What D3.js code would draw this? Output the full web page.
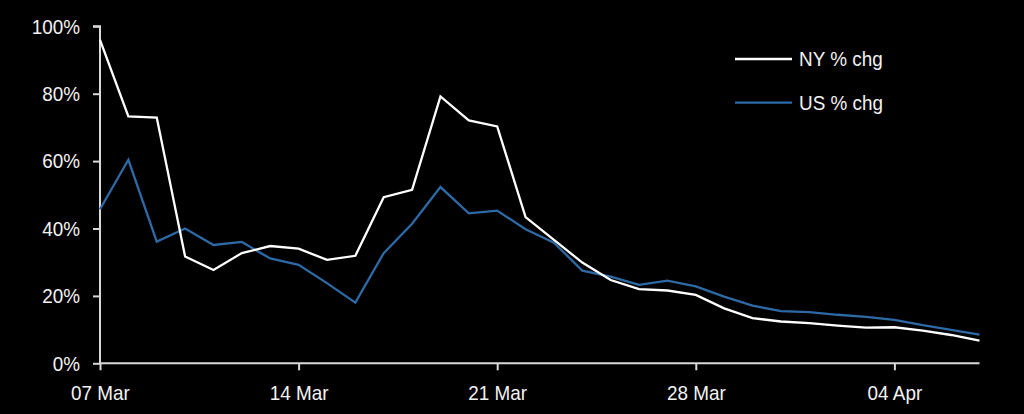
<!DOCTYPE html>
<html>
<head>
<meta charset="utf-8">
<script src="https://cdn.jsdelivr.net/npm/d3@7"></script>
<style>
  html, body { margin: 0; padding: 0; background: #000; }
  svg { display: block; }
  text { font-family: "Liberation Sans", Arial, sans-serif; fill: #f2f2f2; }
</style>
</head>
<body>
<svg id="chart" width="1024" height="414"></svg>
<script>
const dates = ["2020-03-07","2020-03-08","2020-03-09","2020-03-10","2020-03-11","2020-03-12","2020-03-13","2020-03-14",
  "2020-03-15","2020-03-16","2020-03-17","2020-03-18","2020-03-19","2020-03-20","2020-03-21","2020-03-22",
  "2020-03-23","2020-03-24","2020-03-25","2020-03-26","2020-03-27","2020-03-28","2020-03-29","2020-03-30",
  "2020-03-31","2020-04-01","2020-04-02","2020-04-03","2020-04-04","2020-04-05","2020-04-06","2020-04-07"];
const nyChg = [96.0, 73.3, 72.9, 31.7, 27.7, 32.7, 34.8, 34.0, 30.7, 31.9, 49.3, 51.5, 79.2, 72.1, 70.3, 43.4,
  36.6, 29.9, 24.7, 22.0, 21.6, 20.3, 16.3, 13.4, 12.4, 11.9, 11.2, 10.6, 10.7, 9.7, 8.4, 6.7];
const usChg = [45.7, 60.4, 36.1, 40.0, 35.1, 36.0, 31.1, 29.2, 23.8, 18.0, 32.7, 41.4, 52.3, 44.5, 45.3, 39.8,
  35.8, 27.5, 25.7, 23.3, 24.5, 22.8, 19.8, 17.1, 15.5, 15.2, 14.4, 13.8, 12.9, 11.3, 9.9, 8.5];
const xTickDates = ["2020-03-07","2020-03-14","2020-03-21","2020-03-28","2020-04-04"];
const yTicks = [0, 20, 40, 60, 80, 100];
const seriesNames = ["NY % chg", "US % chg"];
const seriesColors = ["#ffffff", "#2d6aa5"];

const parse = d3.utcParse("%Y-%m-%d");
const fmt = d3.utcFormat("%d %b");
const svg = d3.select("#chart");
const FS = 21, SX = 0.9;

const x = d3.scaleUtc()
  .domain([parse(dates[0]), parse(dates[dates.length - 1])])
  .range([100, 979.5]);
const y = d3.scaleLinear().domain([0, 100]).range([363.3, 26.3]);

const axisColor = "#d9d9d9";

// Y axis
const yAxis = svg.append("g").attr("transform", "translate(100,0)")
  .call(d3.axisLeft(y).tickValues(yTicks).tickSize(7).tickPadding(12).tickFormat(d => d + "%"));
yAxis.select(".domain").attr("stroke", axisColor).attr("stroke-width", 2).attr("d", `M-7,${y(100)}H0V${y(0)}`);
yAxis.selectAll(".tick line").attr("stroke", axisColor).attr("stroke-width", 2);
yAxis.selectAll(".tick text").attr("font-size", FS).attr("fill", "#f2f2f2")
  .attr("font-family", "'Liberation Sans', Arial, sans-serif")
  .attr("x", 0).attr("transform", `translate(-20,0) scale(${SX},1)`);

// X axis
const xAxis = svg.append("g").attr("transform", `translate(0,${y(0)})`)
  .call(d3.axisBottom(x).tickValues(xTickDates.map(parse)).tickSize(7).tickPadding(15).tickFormat(fmt));
xAxis.select(".domain").attr("stroke", axisColor).attr("stroke-width", 2).attr("d", `M${x.range()[0]},0H${x.range()[1]}`);
xAxis.selectAll(".tick line").attr("stroke", axisColor).attr("stroke-width", 2);
xAxis.selectAll(".tick text").attr("font-size", FS).attr("fill", "#f2f2f2")
  .attr("font-family", "'Liberation Sans', Arial, sans-serif")
  .attr("transform", `scale(${SX},1)`);

// Lines
const series = [nyChg, usChg];
const line = d3.line().x((d, i) => x(parse(dates[i]))).y(d => y(d));
[1, 0].forEach(k => {
  svg.append("path")
    .datum(series[k])
    .attr("fill", "none")
    .attr("stroke", seriesColors[k])
    .attr("stroke-width", 2.3)
    .attr("stroke-linejoin", "miter")
    .attr("d", line);
});

// Legend
const legend = svg.append("g");
const legendY = [59, 102.7];
seriesNames.forEach((name, k) => {
  legend.append("line")
    .attr("x1", 735).attr("x2", 792)
    .attr("y1", legendY[k]).attr("y2", legendY[k])
    .attr("stroke", seriesColors[k]).attr("stroke-width", 2.3);
  legend.append("text")
    .attr("transform", `translate(799,${legendY[k]}) scale(${SX},1)`)
    .attr("dy", "0.35em")
    .attr("font-size", FS)
    .text(name);
});
</script>
</body>
</html>
